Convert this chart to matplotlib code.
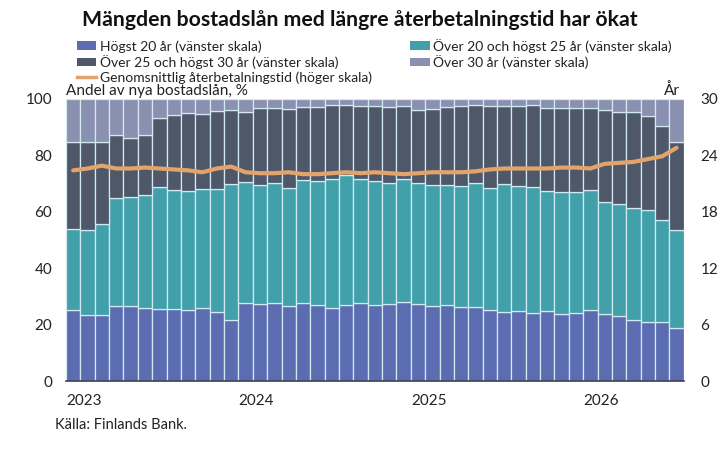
import matplotlib.pyplot as plt
import numpy as np
from matplotlib.lines import Line2D
from matplotlib.patches import Patch

plt.rcParams["font.family"] = ["Lato", "DejaVu Sans"]

# ---------------------------------------------------------------------------
# Data — monthly, Jan 2023 .. Jul 2026 (cumulative tops of each stack, %)
# ---------------------------------------------------------------------------
years = ["2023", "2024", "2025", "2026"]

hogst20 = [25.2, 23.4, 23.4, 26.6, 26.5, 25.9, 25.6, 25.4, 25.2, 25.8, 24.6, 21.5,
           27.5, 27.2, 27.8, 26.5, 27.5, 27.1, 25.8, 27.1, 27.5, 27.0,
           27.3, 28.0, 27.3, 26.7, 26.8, 26.2, 26.1, 25.2, 24.6, 24.8, 24.0,
           24.7, 23.9, 24.2, 25.3, 23.6, 23.0, 21.5, 20.9, 21.0, 18.7]
upto25_top = [53.8, 53.4, 55.8, 64.8, 65.1, 66.1, 68.6, 67.7, 67.5, 68.2, 68.2, 69.7,
              70.4, 69.5, 70.2, 68.3, 71.3, 70.9, 71.6, 73.0, 71.6, 71.0,
              70.2, 71.6, 70.1, 69.4, 69.6, 69.3, 70.2, 68.4, 69.9, 69.3, 68.8,
              67.5, 67.0, 66.9, 67.6, 63.6, 62.8, 61.2, 60.5, 57.0, 53.7]
upto30_top = [84.8, 84.8, 84.8, 87.2, 86.3, 87.2, 93.1, 94.3, 94.9, 94.6, 95.7, 96.1,
              95.3, 96.7, 96.9, 96.3, 97.2, 97.0, 98.0, 98.0, 97.6, 97.5,
              97.2, 97.4, 96.2, 96.6, 97.3, 97.4, 98.0, 97.4, 97.6, 97.4, 97.9,
              96.9, 96.7, 96.7, 96.7, 96.1, 95.5, 95.5, 94.1, 90.5, 84.9]
avg_years = [22.4, 22.6, 22.9, 22.6, 22.6, 22.7, 22.6, 22.5, 22.4, 22.2, 22.6, 22.8,
             22.2, 22.1, 22.1, 22.2, 22.0, 22.0, 22.1, 22.2, 22.1, 22.2,
             22.1, 22.0, 22.1, 22.2, 22.2, 22.2, 22.3, 22.5, 22.6, 22.6, 22.6,
             22.6, 22.7, 22.7, 22.6, 23.1, 23.2, 23.3, 23.6, 23.9, 24.8]

labels = [
    "Högst 20 år (vänster skala)",
    "Över 20 och högst 25 år (vänster skala)",
    "Över 25 och högst 30 år (vänster skala)",
    "Över 30 år (vänster skala)",
    "Genomsnittlig återbetalningstid (höger skala)",
]

C_BLUE = "#5B6CB1"
C_TEAL = "#41A0AA"
C_DARK = "#4E5869"
C_TOP = "#8A90B0"
C_LINE = "#E3A46B"
C_EDGE = "#D3E9F2"
C_TEXT = "#222222"

# segment heights from the cumulative tops
b1 = np.array(hogst20)
b2 = np.array(upto25_top) - b1
b3 = np.array(upto30_top) - np.array(upto25_top)
b4 = 100 - np.array(upto30_top)
x = np.arange(len(b1))

fig = plt.figure(figsize=(7.2, 4.71), dpi=100)
ax = fig.add_axes([0.0917, 0.191, 0.858, 0.599])

bottom = np.zeros(len(x))
for seg, col in zip([b1, b2, b3, b4], [C_BLUE, C_TEAL, C_DARK, C_TOP]):
    ax.bar(x, seg, bottom=bottom, width=1.0, color=col,
           edgecolor=C_EDGE, linewidth=0.9)
    bottom += seg

ax.set_xlim(-0.5, len(x) - 0.5)
ax.set_ylim(0, 100)
ax.set_yticks(range(0, 101, 20))
ax.tick_params(axis="y", length=0, labelsize=11, colors=C_TEXT, pad=10)
ax.set_xticks([])
for s in ["top", "right", "left"]:
    ax.spines[s].set_visible(False)
ax.spines["bottom"].set_color("#3A4250")
ax.spines["bottom"].set_linewidth(1.2)

for i, yr in enumerate(years):
    ax.text(12 * i - 0.5, -4.5, yr, ha="left", va="top", fontsize=11, color=C_TEXT)

ax2 = ax.twinx()
ax2.plot(x, avg_years, color=C_LINE, linewidth=3, solid_capstyle="round")
ax2.set_ylim(0, 30)
ax2.set_yticks(range(0, 31, 6))
ax2.tick_params(axis="y", length=0, labelsize=11, colors=C_TEXT, pad=12)
for s in ["top", "right", "left", "bottom"]:
    ax2.spines[s].set_visible(False)

fig.text(0.0917, 0.792, "Andel av nya bostadslån, %", ha="left", va="bottom",
         fontsize=11, color=C_TEXT)
fig.text(0.945, 0.792, "År", ha="right", va="bottom", fontsize=11, color=C_TEXT)

fig.text(0.5, 0.957, "Mängden bostadslån med längre återbetalningstid har ökat",
         ha="center", va="center", fontsize=15.3, fontweight="bold", color="#111111")

handles = [
    Patch(facecolor=C_BLUE), Patch(facecolor=C_DARK),
    Line2D([], [], color=C_LINE, linewidth=2.5),
    Patch(facecolor=C_TEAL), Patch(facecolor=C_TOP),
]
order = [labels[0], labels[2], labels[4], labels[1], labels[3]]
fig.legend(handles, order, ncol=2, loc="upper left", bbox_to_anchor=(0.107, 0.918),
           frameon=False, fontsize=10, handlelength=1.4, handleheight=0.55,
           handletextpad=0.25, labelspacing=0.17, columnspacing=2.75,
           labelcolor=C_TEXT, borderaxespad=0, borderpad=0)

fig.text(0.076, 0.098, "Källa: Finlands Bank.", ha="left", va="center",
         fontsize=10.5, color=C_TEXT)

fig.savefig("out.png", dpi=100)
